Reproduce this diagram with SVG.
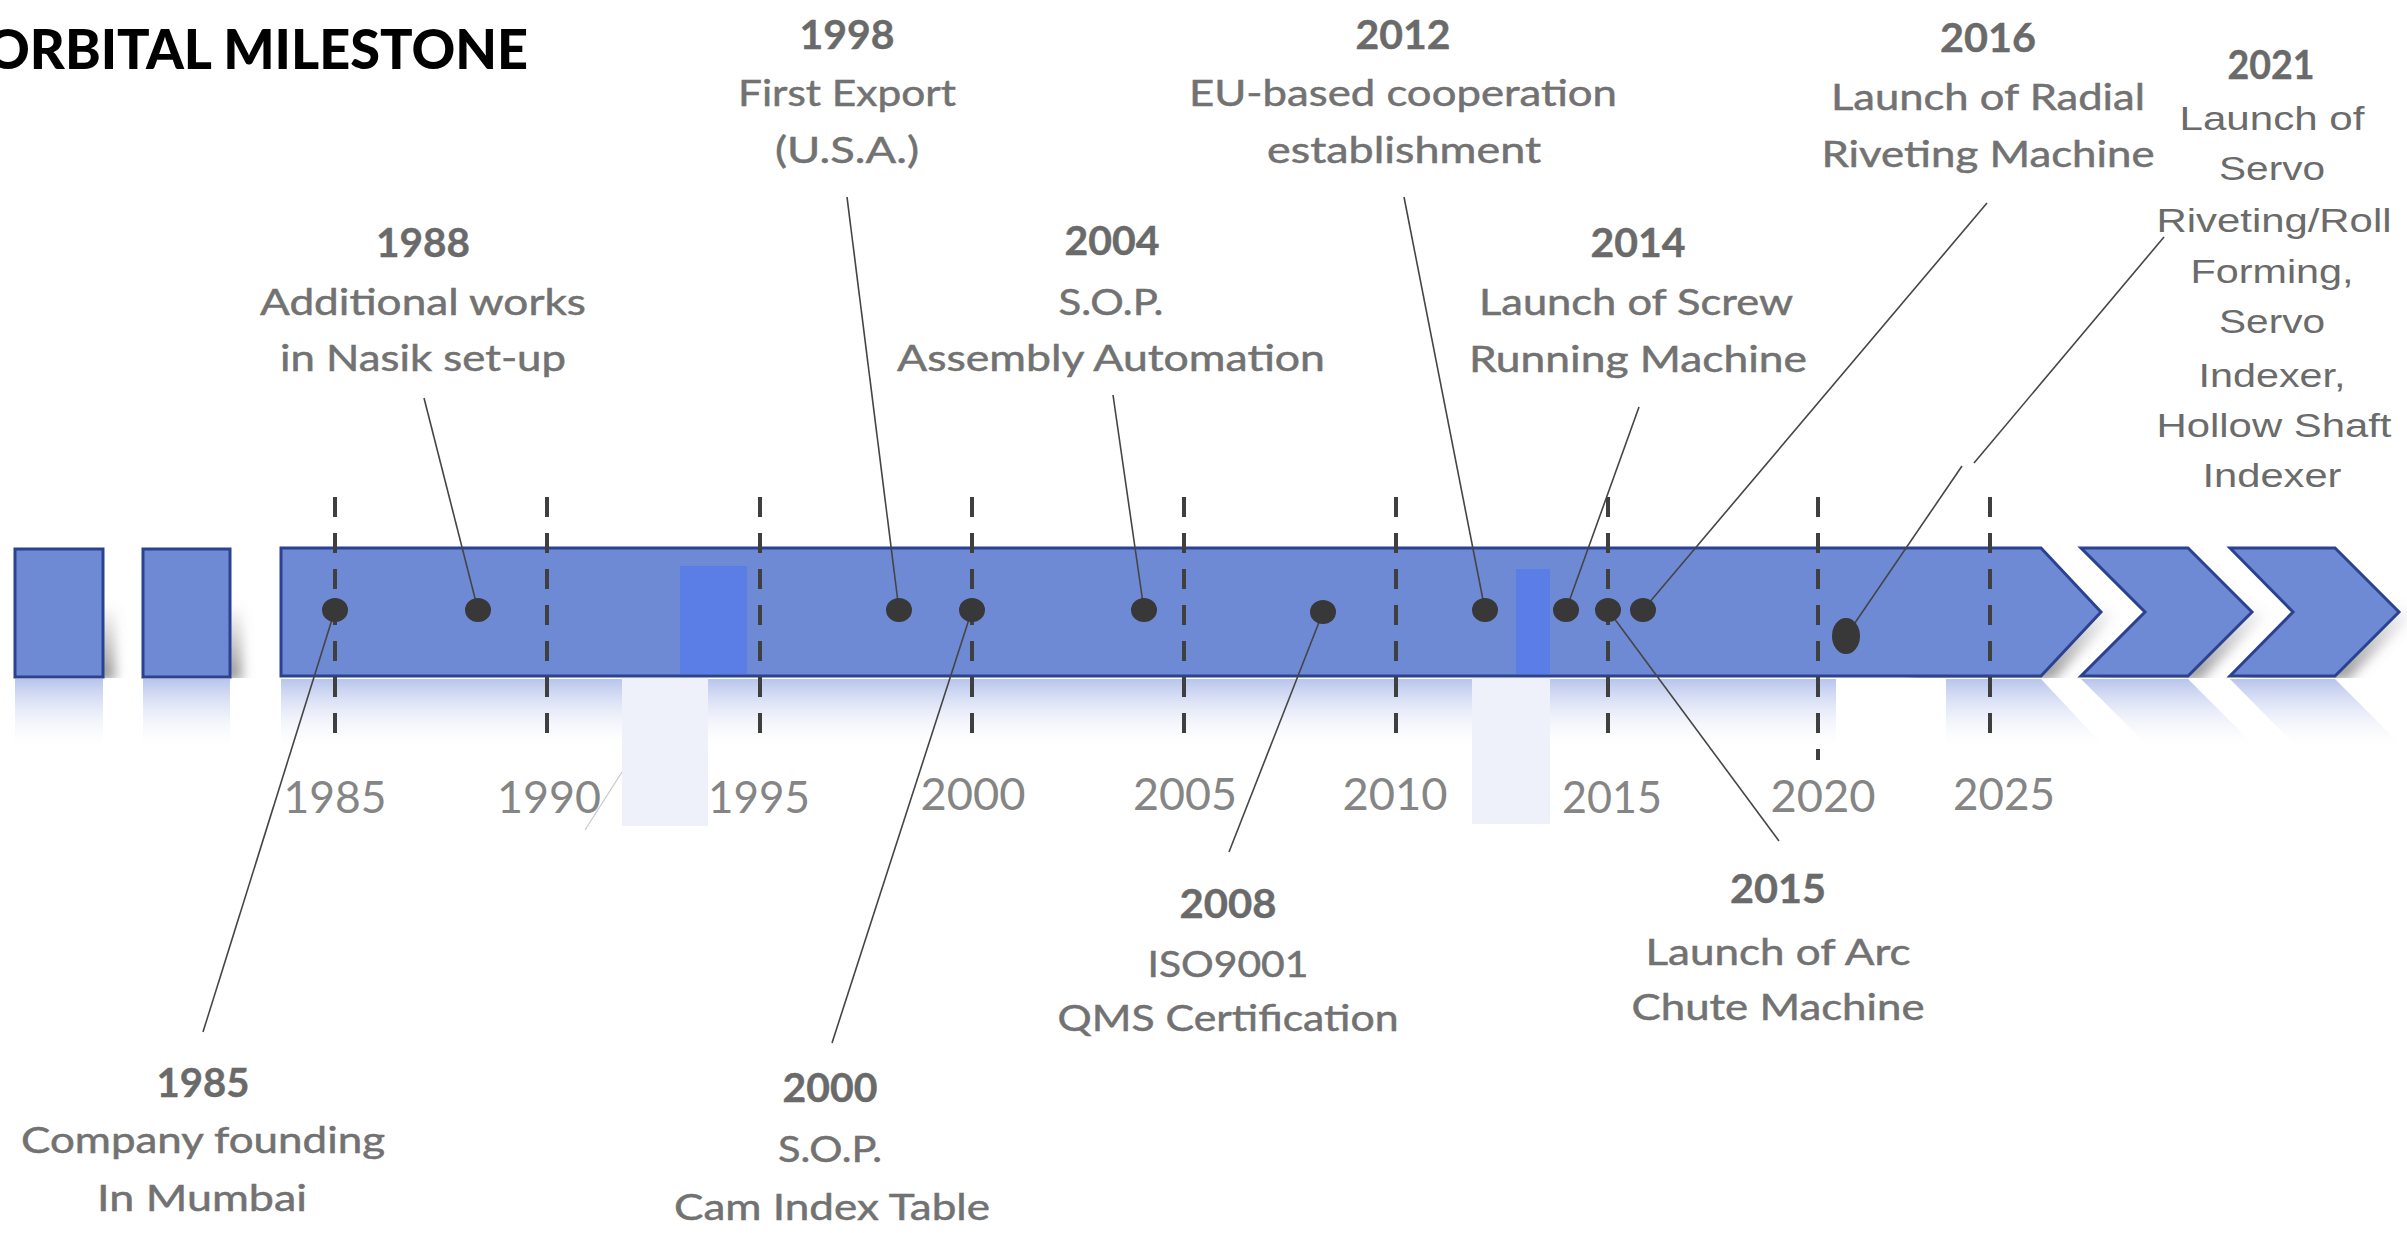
<svg xmlns="http://www.w3.org/2000/svg" width="2407" height="1233" viewBox="0 0 2407 1233">
<defs>
<style>
.yr{font-family:Lato,"Liberation Sans",sans-serif;font-weight:700;font-size:40px;fill:#6a6a6a;stroke:#6a6a6a;stroke-width:0.4;text-anchor:middle}
.tx{font-family:Lato,"Liberation Sans",sans-serif;font-size:37px;fill:#727272;stroke:#727272;stroke-width:0.5;text-anchor:middle}
.ar{font-family:"Liberation Sans",Arial,sans-serif;font-size:34px;fill:#6b6b6b;text-anchor:middle}
.tk{font-family:Lato,"Liberation Sans",sans-serif;font-weight:400;font-size:45px;fill:#858585;text-anchor:middle}
.ttl{font-family:Lato,"Liberation Sans",sans-serif;font-weight:900;font-size:56px;fill:#000000}
.bar{fill:#6f8ad4;stroke:#2b4290;stroke-width:3;stroke-linejoin:miter}
.refl{fill:url(#refl)}
.ovl{fill:#5a7de6}
.pale{fill:#eef0fa}
.dash{stroke:#3f3f3f;stroke-width:4;stroke-dasharray:20 16;fill:none}
.lead{stroke:#454545;stroke-width:1.6;fill:none}
.dot{fill:#383838}
</style>
<linearGradient id="refl" gradientUnits="userSpaceOnUse" x1="0" y1="679" x2="0" y2="752">
<stop offset="0" stop-color="#b7c4ec"/>
<stop offset="1" stop-color="#ffffff" stop-opacity="0"/>
</linearGradient>
<linearGradient id="shd" gradientUnits="userSpaceOnUse" x1="0" y1="600" x2="0" y2="677">
<stop offset="0" stop-color="#777777" stop-opacity="0"/>
<stop offset="1" stop-color="#777777" stop-opacity="0.8"/>
</linearGradient>
<filter id="blur" x="-20%" y="-50%" width="140%" height="200%"><feGaussianBlur stdDeviation="6"/></filter>
<clipPath id="above"><rect x="0" y="0" width="2407" height="678"/></clipPath>
</defs>

<rect width="2407" height="1233" fill="#ffffff"/>

<text class="ttl" x="-14" y="69" textLength="542" lengthAdjust="spacingAndGlyphs">ORBITAL MILESTONE</text>

<!-- reflections -->
<g id="reflections">
<rect class="refl" x="15" y="679" width="88" height="90"/>
<rect class="refl" x="143" y="679" width="87" height="90"/>
<polygon class="refl" points="281,679 2041,679 2101,743 2041,807 281,807"/>
<polygon class="refl" points="2081,679 2188,679 2252,743 2188,807 2081,807 2145,743"/>
<polygon class="refl" points="2230,679 2335,679 2399,743 2335,807 2230,807 2293,743"/>
</g>

<!-- shadows -->
<g id="shadows" clip-path="url(#above)">
<g filter="url(#blur)" fill="url(#shd)" transform="translate(12,4)">
<rect x="15" y="549" width="88" height="128"/>
<rect x="143" y="549" width="87" height="128"/>
<polygon points="1900,548 2041,548 2101,612 2041,676 1900,676"/>
<polygon points="2081,548 2188,548 2252,612 2188,676 2081,676 2145,612"/>
<polygon points="2230,548 2335,548 2399,612 2335,676 2230,676 2293,612"/>
</g>
</g>

<!-- timeline bar -->
<g id="bar">
<rect class="bar" x="15" y="549" width="88" height="128"/>
<rect class="bar" x="143" y="549" width="87" height="128"/>
<polygon class="bar" points="281,548 2041,548 2101,612 2041,676 281,676"/>
<polygon class="bar" points="2081,548 2188,548 2252,612 2188,676 2081,676 2145,612"/>
<polygon class="bar" points="2230,548 2335,548 2399,612 2335,676 2230,676 2293,612"/>
<rect class="ovl" x="680" y="566" width="67" height="108"/>
<rect class="ovl" x="1516" y="569" width="34" height="105"/>
<rect class="pale" x="622" y="678" width="86" height="148"/>
<rect class="pale" x="1472" y="678" width="78" height="146"/>
<rect fill="#ffffff" x="1836" y="679" width="110" height="80"/>
<line x1="622" y1="772" x2="585" y2="830" stroke="#c8c8c8" stroke-width="1.2"/>
</g>

<!-- year ticks -->
<g id="ticks">
<line class="dash" x1="335" y1="497" x2="335" y2="735"/>
<line class="dash" x1="547" y1="497" x2="547" y2="735"/>
<line class="dash" x1="760" y1="497" x2="760" y2="735"/>
<line class="dash" x1="972" y1="497" x2="972" y2="735"/>
<line class="dash" x1="1184" y1="497" x2="1184" y2="735"/>
<line class="dash" x1="1396" y1="497" x2="1396" y2="735"/>
<line class="dash" x1="1608" y1="497" x2="1608" y2="735"/>
<line class="dash" x1="1818" y1="497" x2="1818" y2="760"/>
<line class="dash" x1="1990" y1="497" x2="1990" y2="748"/>
<text class="tk" x="335" y="813" textLength="103" lengthAdjust="spacingAndGlyphs">1985</text>
<text class="tk" x="549" y="813" textLength="104" lengthAdjust="spacingAndGlyphs">1990</text>
<text class="tk" x="759" y="813" textLength="102" lengthAdjust="spacingAndGlyphs">1995</text>
<text class="tk" x="973" y="810" textLength="105" lengthAdjust="spacingAndGlyphs">2000</text>
<text class="tk" x="1185" y="810" textLength="104" lengthAdjust="spacingAndGlyphs">2005</text>
<text class="tk" x="1395" y="810" textLength="105" lengthAdjust="spacingAndGlyphs">2010</text>
<text class="tk" x="1612" y="813" textLength="100" lengthAdjust="spacingAndGlyphs">2015</text>
<text class="tk" x="1823" y="812" textLength="105" lengthAdjust="spacingAndGlyphs">2020</text>
<text class="tk" x="2004" y="810" textLength="102" lengthAdjust="spacingAndGlyphs">2025</text>
</g>

<!-- connectors -->
<g id="connectors">
<line class="lead" x1="335" y1="610" x2="203" y2="1032"/>
<line class="lead" x1="424" y1="398" x2="478" y2="610"/>
<line class="lead" x1="847" y1="197" x2="899" y2="610"/>
<line class="lead" x1="972" y1="610" x2="832" y2="1043"/>
<line class="lead" x1="1113" y1="395" x2="1144" y2="610"/>
<line class="lead" x1="1323" y1="612" x2="1229" y2="852"/>
<line class="lead" x1="1404" y1="197" x2="1485" y2="610"/>
<line class="lead" x1="1639" y1="407" x2="1566" y2="610"/>
<line class="lead" x1="1608" y1="610" x2="1779" y2="841"/>
<line class="lead" x1="1987" y1="203" x2="1643" y2="610"/>
<line class="lead" x1="2164" y1="237" x2="1974" y2="463"/>
<line class="lead" x1="1962" y1="466" x2="1846" y2="636"/>
</g>

<!-- milestone nodes -->
<g id="m1985">
<ellipse class="dot" cx="335" cy="610" rx="13" ry="12"/>
<text class="yr" x="203" y="1097" textLength="93" lengthAdjust="spacingAndGlyphs">1985</text>
<text class="tx" x="203" y="1153" textLength="364" lengthAdjust="spacingAndGlyphs">Company founding</text>
<text class="tx" x="202" y="1211" textLength="210" lengthAdjust="spacingAndGlyphs">In Mumbai</text>
</g>
<g id="m1988">
<ellipse class="dot" cx="478" cy="610" rx="13" ry="12"/>
<text class="yr" x="423" y="257" textLength="94" lengthAdjust="spacingAndGlyphs">1988</text>
<text class="tx" x="423" y="315" textLength="326" lengthAdjust="spacingAndGlyphs">Additional works</text>
<text class="tx" x="423" y="371" textLength="286" lengthAdjust="spacingAndGlyphs">in Nasik set-up</text>
</g>
<g id="m1998">
<ellipse class="dot" cx="899" cy="610" rx="13" ry="12"/>
<text class="yr" x="847" y="49" textLength="95" lengthAdjust="spacingAndGlyphs">1998</text>
<text class="tx" x="847" y="106" textLength="218" lengthAdjust="spacingAndGlyphs">First Export</text>
<text class="tx" x="847" y="163" textLength="144" lengthAdjust="spacingAndGlyphs">(U.S.A.)</text>
</g>
<g id="m2000">
<ellipse class="dot" cx="972" cy="610" rx="13" ry="12"/>
<text class="yr" x="830" y="1102" textLength="95" lengthAdjust="spacingAndGlyphs">2000</text>
<text class="tx" x="830" y="1162" textLength="104" lengthAdjust="spacingAndGlyphs">S.O.P.</text>
<text class="tx" x="832" y="1220" textLength="316" lengthAdjust="spacingAndGlyphs">Cam Index Table</text>
</g>
<g id="m2004">
<ellipse class="dot" cx="1144" cy="610" rx="13" ry="12"/>
<text class="yr" x="1112" y="255" textLength="95" lengthAdjust="spacingAndGlyphs">2004</text>
<text class="tx" x="1111" y="315" textLength="105" lengthAdjust="spacingAndGlyphs">S.O.P.</text>
<text class="tx" x="1111" y="371" textLength="428" lengthAdjust="spacingAndGlyphs">Assembly Automation</text>
</g>
<g id="m2008">
<ellipse class="dot" cx="1323" cy="612" rx="13" ry="12"/>
<text class="yr" x="1228" y="918" textLength="97" lengthAdjust="spacingAndGlyphs">2008</text>
<text class="tx" x="1228" y="977" textLength="161" lengthAdjust="spacingAndGlyphs">ISO9001</text>
<text class="tx" x="1228" y="1031" textLength="341" lengthAdjust="spacingAndGlyphs">QMS Certification</text>
</g>
<g id="m2012">
<ellipse class="dot" cx="1485" cy="610" rx="13" ry="12"/>
<text class="yr" x="1403" y="49" textLength="95" lengthAdjust="spacingAndGlyphs">2012</text>
<text class="tx" x="1403" y="106" textLength="428" lengthAdjust="spacingAndGlyphs">EU-based cooperation</text>
<text class="tx" x="1404" y="163" textLength="274" lengthAdjust="spacingAndGlyphs">establishment</text>
</g>
<g id="m2014">
<ellipse class="dot" cx="1566" cy="610" rx="13" ry="12"/>
<text class="yr" x="1638" y="257" textLength="95" lengthAdjust="spacingAndGlyphs">2014</text>
<text class="tx" x="1636" y="315" textLength="314" lengthAdjust="spacingAndGlyphs">Launch of Screw</text>
<text class="tx" x="1638" y="372" textLength="338" lengthAdjust="spacingAndGlyphs">Running Machine</text>
</g>
<g id="m2015">
<ellipse class="dot" cx="1608" cy="610" rx="13" ry="12"/>
<text class="yr" x="1778" y="903" textLength="96" lengthAdjust="spacingAndGlyphs">2015</text>
<text class="tx" x="1778" y="965" textLength="265" lengthAdjust="spacingAndGlyphs">Launch of Arc</text>
<text class="tx" x="1778" y="1020" textLength="293" lengthAdjust="spacingAndGlyphs">Chute Machine</text>
</g>
<g id="m2016">
<ellipse class="dot" cx="1643" cy="610" rx="13" ry="12"/>
<text class="yr" x="1988" y="52" textLength="96" lengthAdjust="spacingAndGlyphs">2016</text>
<text class="tx" x="1988" y="110" textLength="314" lengthAdjust="spacingAndGlyphs">Launch of Radial</text>
<text class="tx" x="1988" y="167" textLength="333" lengthAdjust="spacingAndGlyphs">Riveting Machine</text>
</g>
<g id="m2021">
<ellipse class="dot" cx="1846" cy="636" rx="14" ry="18"/>
<text class="yr" x="2271" y="79" textLength="87" lengthAdjust="spacingAndGlyphs">2021</text>
<text class="ar" x="2272" y="130" textLength="185" lengthAdjust="spacingAndGlyphs">Launch of</text>
<text class="ar" x="2272" y="180" textLength="106" lengthAdjust="spacingAndGlyphs">Servo</text>
<text class="ar" x="2274" y="232" textLength="235" lengthAdjust="spacingAndGlyphs">Riveting/Roll</text>
<text class="ar" x="2272" y="283" textLength="163" lengthAdjust="spacingAndGlyphs">Forming,</text>
<text class="ar" x="2272" y="333" textLength="106" lengthAdjust="spacingAndGlyphs">Servo</text>
<text class="ar" x="2272" y="387" textLength="147" lengthAdjust="spacingAndGlyphs">Indexer,</text>
<text class="ar" x="2274" y="437" textLength="235" lengthAdjust="spacingAndGlyphs">Hollow Shaft</text>
<text class="ar" x="2272" y="487" textLength="139" lengthAdjust="spacingAndGlyphs">Indexer</text>
</g>
</svg>
